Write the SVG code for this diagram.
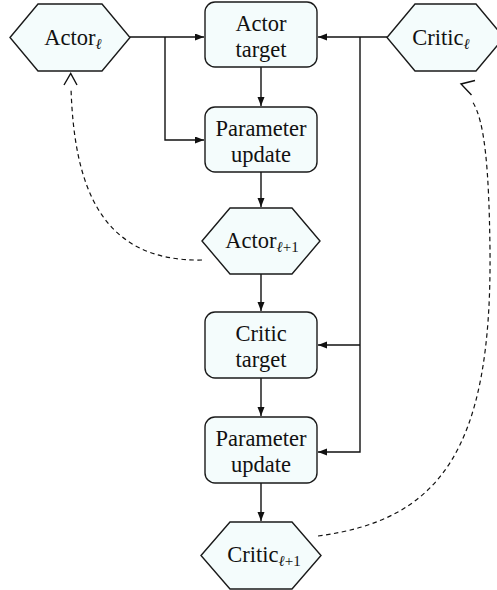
<svg xmlns="http://www.w3.org/2000/svg" width="497" height="590" viewBox="0 0 497 590">
<defs>
<style>
.node{fill:#f4fcfc;stroke:#1a1a1a;stroke-width:1.4}
.t{font-family:"Liberation Serif","Times New Roman",serif;font-size:22.5px;fill:#111;text-anchor:middle}
.sub{font-size:15px}
.it{font-style:italic}
.line{fill:none;stroke:#111;stroke-width:1.4}
.dash{fill:none;stroke:#111;stroke-width:1.2;stroke-dasharray:4.5,3.5}
.open{fill:none;stroke:#111;stroke-width:1.4}
</style>
<marker id="arr" markerUnits="userSpaceOnUse" markerWidth="10" markerHeight="8" refX="9" refY="3.5" orient="auto">
<path d="M0,0 L9,3.5 L0,7 z" fill="#111"/>
</marker>
</defs>
<rect width="497" height="590" fill="#fff"/>
<g id="connectors">
<path class="line" d="M130,37 L204,37" marker-end="url(#arr)"/>
<path class="line" d="M165,37 L165,140 L204,140" marker-end="url(#arr)"/>
<path class="line" d="M387,37 L318,37" marker-end="url(#arr)"/>
<path class="line" d="M360,37 L360,452 L318,452" marker-end="url(#arr)"/>
<path class="line" d="M360,345 L318,345" marker-end="url(#arr)"/>
<path class="line" d="M261,67 L261,106" marker-end="url(#arr)"/>
<path class="line" d="M261,172 L261,207" marker-end="url(#arr)"/>
<path class="line" d="M261,274 L261,311" marker-end="url(#arr)"/>
<path class="line" d="M261,378 L261,416" marker-end="url(#arr)"/>
<path class="line" d="M261,483 L261,521" marker-end="url(#arr)"/>
<path class="dash" d="M202,260 C100,262 74,185 71,88"/>
<path class="open" d="M64,85 L70.7,73.5 L77,85"/>
<path class="dash" d="M318,536 C440,520 492,450 490,250 C489,170 485,120 472,101"/>
<path class="open" d="M475,80.5 L461,84 L471.5,95"/>
</g>
<g id="actor-l">
<polygon class="node" points="10,37.5 38,4 102,4 130,37.5 102,71 38,71"/>
<text class="t" x="73" y="44.5">Actor<tspan class="sub it" dy="4">ℓ</tspan></text>
</g>
<g id="critic-l">
<polygon class="node" points="387,37.5 415,4 476,4 504,37.5 476,71 415,71"/>
<text class="t" x="441" y="44.5">Critic<tspan class="sub it" dy="4">ℓ</tspan></text>
</g>
<g id="actor-target">
<rect class="node" x="205" y="2" width="112" height="65" rx="10"/>
<text class="t" x="261" y="30.5">Actor</text>
<text class="t" x="261" y="56.5">target</text>
</g>
<g id="param-update-1">
<rect class="node" x="205" y="107" width="112" height="65" rx="10"/>
<text class="t" x="261" y="135.5">Parameter</text>
<text class="t" x="261" y="161.5">update</text>
</g>
<g id="actor-l1">
<polygon class="node" points="202,241 230,208 292,208 320,241 292,274 230,274"/>
<text class="t" x="262" y="248">Actor<tspan class="sub it" dy="4">ℓ</tspan><tspan class="sub">+1</tspan></text>
</g>
<g id="critic-target">
<rect class="node" x="205" y="312" width="112" height="66" rx="10"/>
<text class="t" x="261" y="340.5">Critic</text>
<text class="t" x="261" y="366.5">target</text>
</g>
<g id="param-update-2">
<rect class="node" x="205" y="417" width="112" height="66" rx="10"/>
<text class="t" x="261" y="445.5">Parameter</text>
<text class="t" x="261" y="471.5">update</text>
</g>
<g id="critic-l1">
<polygon class="node" points="201,555.5 230,522 292,522 321,555.5 292,589 230,589"/>
<text class="t" x="264" y="562">Critic<tspan class="sub it" dy="4">ℓ</tspan><tspan class="sub">+1</tspan></text>
</g>
</svg>
